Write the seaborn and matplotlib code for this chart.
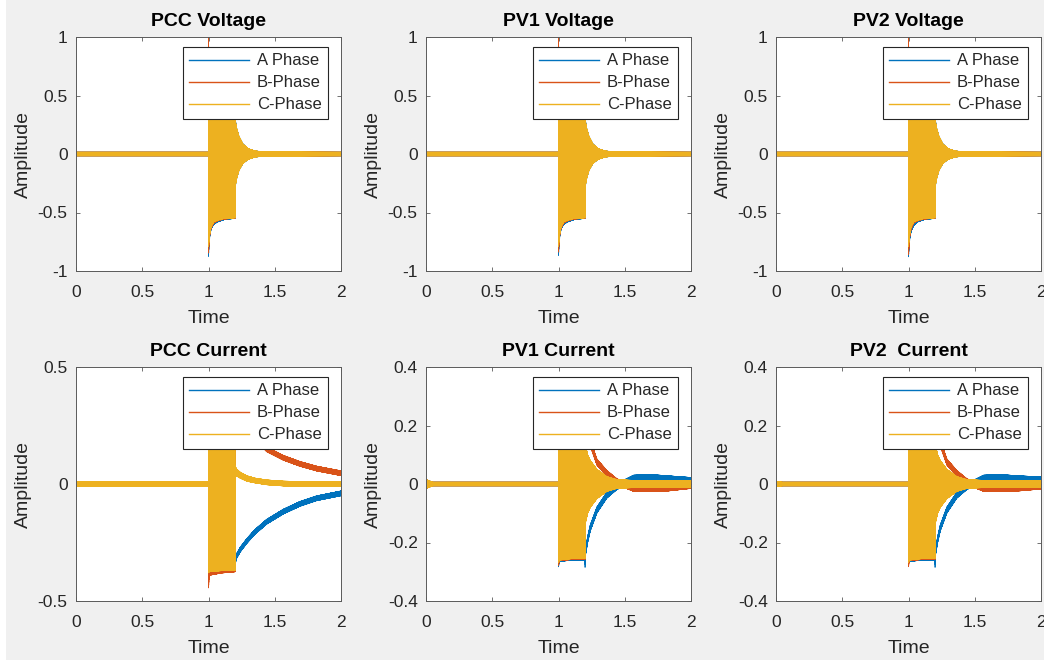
import numpy as np
import pandas as pd
import matplotlib
matplotlib.use("Agg")
import matplotlib.pyplot as plt
from matplotlib.patches import Rectangle
import seaborn as sns

# ---------------- data (envelope knots) ----------------
phases = ["A Phase", "B-Phase", "C-Phase"]
phase_colors = ["#0072BD", "#D95319", "#EDB120"]
titles = ["PCC Voltage", "PV1 Voltage", "PV2 Voltage",
          "PCC Current", "PV1 Current", "PV2  Current"]
x_ticks = [0, 0.5, 1, 1.5, 2]
x_ticklabels = ["0", "0.5", "1", "1.5", "2"]
v_ticks = [-1, -0.5, 0, 0.5, 1]
v_ticklabels = ["-1", "-0.5", "0", "0.5", "1"]
pcc_i_ticks = [-0.5, 0, 0.5]
pcc_i_ticklabels = ["-0.5", "0", "0.5"]
pv_i_ticks = [-0.4, -0.2, 0, 0.2, 0.4]
pv_i_ticklabels = ["-0.4", "-0.2", "0", "0.2", "0.4"]

# voltage knots (time) and upper / lower envelopes of each phase
v_t = [0, 0.9995, 1.0, 1.003, 1.01, 1.02, 1.04, 1.07, 1.12, 1.1995, 1.2, 1.21, 1.23, 1.26, 1.3, 1.35, 1.42, 2.0]
pcc_v_a_hi = [0.015, 0.015, 1.10, 0.55, 0.55, 0.55, 0.55, 0.55, 0.55, 0.55, 0.32, 0.23, 0.15, 0.085, 0.045, 0.026, 0.017, 0.015]
pcc_v_a_lo = [-0.015, -0.015, -0.89, -0.80, -0.70, -0.64, -0.60, -0.58, -0.56, -0.55, -0.30, -0.22, -0.14, -0.08, -0.045, -0.026, -0.017, -0.015]
pcc_v_b_hi = [0.015, 0.015, 1.10, 0.55, 0.55, 0.55, 0.55, 0.55, 0.55, 0.55, 0.30, 0.22, 0.14, 0.08, 0.042, 0.025, 0.017, 0.015]
pcc_v_b_lo = [-0.015, -0.015, -0.86, -0.78, -0.69, -0.63, -0.59, -0.57, -0.555, -0.55, -0.29, -0.21, -0.13, -0.075, -0.042, -0.025, -0.017, -0.015]
pcc_v_c_hi = [0.015, 0.015, 0.55, 0.55, 0.55, 0.55, 0.55, 0.55, 0.55, 0.55, 0.31, 0.23, 0.15, 0.085, 0.045, 0.026, 0.017, 0.015]
pcc_v_c_lo = [-0.015, -0.015, -0.80, -0.75, -0.68, -0.62, -0.58, -0.565, -0.55, -0.545, -0.30, -0.22, -0.14, -0.08, -0.045, -0.026, -0.017, -0.015]

pv1_v_a_hi = [0.015, 0.015, 1.10, 0.55, 0.55, 0.55, 0.55, 0.55, 0.55, 0.55, 0.32, 0.23, 0.15, 0.085, 0.045, 0.026, 0.017, 0.015]
pv1_v_a_lo = [-0.015, -0.015, -0.88, -0.80, -0.70, -0.64, -0.60, -0.58, -0.56, -0.55, -0.30, -0.22, -0.14, -0.08, -0.045, -0.026, -0.017, -0.015]
pv1_v_b_hi = [0.015, 0.015, 1.10, 0.55, 0.55, 0.55, 0.55, 0.55, 0.55, 0.55, 0.30, 0.22, 0.14, 0.08, 0.042, 0.025, 0.017, 0.015]
pv1_v_b_lo = [-0.015, -0.015, -0.85, -0.78, -0.69, -0.63, -0.59, -0.57, -0.555, -0.55, -0.29, -0.21, -0.13, -0.075, -0.042, -0.025, -0.017, -0.015]
pv1_v_c_hi = [0.015, 0.015, 0.55, 0.55, 0.55, 0.55, 0.55, 0.55, 0.55, 0.55, 0.31, 0.23, 0.15, 0.085, 0.045, 0.026, 0.017, 0.015]
pv1_v_c_lo = [-0.015, -0.015, -0.80, -0.75, -0.68, -0.62, -0.58, -0.565, -0.55, -0.545, -0.30, -0.22, -0.14, -0.08, -0.045, -0.026, -0.017, -0.015]

pv2_v_a_hi = [0.015, 0.015, 0.55, 0.55, 0.55, 0.55, 0.55, 0.55, 0.55, 0.55, 0.32, 0.23, 0.15, 0.085, 0.045, 0.026, 0.017, 0.015]
pv2_v_a_lo = [-0.015, -0.015, -0.89, -0.82, -0.72, -0.66, -0.61, -0.58, -0.56, -0.55, -0.30, -0.22, -0.14, -0.08, -0.045, -0.026, -0.017, -0.015]
pv2_v_b_hi = [0.015, 0.015, 1.10, 0.55, 0.55, 0.55, 0.55, 0.55, 0.55, 0.55, 0.30, 0.22, 0.14, 0.08, 0.042, 0.025, 0.017, 0.015]
pv2_v_b_lo = [-0.015, -0.015, -0.87, -0.80, -0.70, -0.64, -0.59, -0.57, -0.555, -0.55, -0.29, -0.21, -0.13, -0.075, -0.042, -0.025, -0.017, -0.015]
pv2_v_c_hi = [0.015, 0.015, 0.55, 0.55, 0.55, 0.55, 0.55, 0.55, 0.55, 0.55, 0.31, 0.23, 0.15, 0.085, 0.045, 0.026, 0.017, 0.015]
pv2_v_c_lo = [-0.015, -0.015, -0.80, -0.75, -0.68, -0.62, -0.58, -0.565, -0.55, -0.545, -0.30, -0.22, -0.14, -0.08, -0.045, -0.026, -0.017, -0.015]

# PCC current knots
pcc_i_t = [0, 0.9995, 1.0, 1.005, 1.1, 1.1995, 1.2, 1.21, 1.24, 1.29, 1.35, 1.44, 1.565, 1.69, 1.816, 2.0]
pcc_i_a_hi = [0.01, 0.01, 0.30, 0.30, 0.30, 0.30, -0.32, -0.30, -0.27, -0.233, -0.195, -0.151, -0.108, -0.075, -0.051, -0.030]
pcc_i_a_lo = [-0.01, -0.01, -0.41, -0.385, -0.375, -0.37, -0.35, -0.32, -0.29, -0.253, -0.215, -0.171, -0.128, -0.095, -0.071, -0.050]
pcc_i_b_hi = [0.01, 0.01, 0.30, 0.30, 0.30, 0.30, 0.35, 0.32, 0.30, 0.255, 0.21, 0.158, 0.122, 0.096, 0.076, 0.056]
pcc_i_b_lo = [-0.01, -0.01, -0.45, -0.39, -0.38, -0.375, 0.33, 0.30, 0.28, 0.235, 0.19, 0.138, 0.102, 0.076, 0.056, 0.036]
pcc_i_c_hi = [0.01, 0.01, 0.30, 0.30, 0.30, 0.30, 0.08, 0.065, 0.05, 0.035, 0.025, 0.017, 0.012, 0.01, 0.01, 0.01]
pcc_i_c_lo = [-0.01, -0.01, -0.38, -0.375, -0.37, -0.37, 0.03, 0.035, 0.025, 0.012, 0.005, -0.003, -0.008, -0.01, -0.01, -0.01]

# PV currents knots
pv_i_t = [0, 0.05, 0.9995, 1.0, 1.005, 1.1, 1.1995, 1.2, 1.205, 1.22, 1.24, 1.29, 1.365, 1.44, 1.567, 1.7, 1.82, 2.0]
pv1_i_a_hi = [0.015, 0.006, 0.006, 0.25, 0.25, 0.25, 0.25, -0.25, -0.22, -0.18, -0.14, -0.079, -0.028, 0.001, 0.03, 0.032, 0.028, 0.022]
pv1_i_a_lo = [-0.015, -0.006, -0.006, -0.285, -0.265, -0.26, -0.26, -0.29, -0.24, -0.20, -0.16, -0.099, -0.048, -0.019, 0.01, 0.012, 0.008, 0.002]
pv1_i_b_hi = [0.015, 0.006, 0.006, 0.25, 0.25, 0.25, 0.25, 0.28, 0.24, 0.20, 0.15, 0.085, 0.046, 0.018, -0.005, -0.006, -0.004, 0.005]
pv1_i_b_lo = [-0.015, -0.006, -0.006, -0.28, -0.262, -0.258, -0.258, 0.26, 0.22, 0.18, 0.13, 0.065, 0.026, -0.002, -0.025, -0.026, -0.024, -0.015]
pv1_i_c_hi = [0.015, 0.006, 0.006, 0.25, 0.25, 0.25, 0.25, 0.15, 0.13, 0.10, 0.08, 0.05, 0.025, 0.015, 0.012, 0.012, 0.012, 0.012]
pv1_i_c_lo = [-0.015, -0.006, -0.006, -0.27, -0.26, -0.255, -0.255, -0.15, -0.13, -0.10, -0.08, -0.05, -0.025, -0.015, -0.012, -0.012, -0.012, -0.012]

pv2_i_a_hi = [0.008, 0.006, 0.006, 0.25, 0.25, 0.25, 0.25, -0.25, -0.22, -0.18, -0.14, -0.079, -0.028, 0.001, 0.03, 0.032, 0.028, 0.024]
pv2_i_a_lo = [-0.008, -0.006, -0.006, -0.27, -0.265, -0.26, -0.26, -0.29, -0.24, -0.20, -0.16, -0.099, -0.048, -0.019, 0.01, 0.012, 0.008, 0.004]
pv2_i_b_hi = [0.008, 0.006, 0.006, 0.25, 0.25, 0.25, 0.25, 0.28, 0.24, 0.20, 0.15, 0.085, 0.046, 0.018, -0.005, -0.006, -0.004, 0.003]
pv2_i_b_lo = [-0.008, -0.006, -0.006, -0.285, -0.262, -0.258, -0.258, 0.26, 0.22, 0.18, 0.13, 0.065, 0.026, -0.002, -0.025, -0.026, -0.024, -0.017]
pv2_i_c_hi = [0.008, 0.006, 0.006, 0.25, 0.25, 0.25, 0.25, 0.15, 0.13, 0.10, 0.08, 0.05, 0.025, 0.015, 0.012, 0.012, 0.012, 0.012]
pv2_i_c_lo = [-0.008, -0.006, -0.006, -0.27, -0.26, -0.255, -0.255, -0.15, -0.13, -0.10, -0.08, -0.05, -0.025, -0.015, -0.012, -0.012, -0.012, -0.012]

panels = [
    (v_t, [(pcc_v_a_hi, pcc_v_a_lo), (pcc_v_b_hi, pcc_v_b_lo), (pcc_v_c_hi, pcc_v_c_lo)], (-1, 1), v_ticks, v_ticklabels),
    (v_t, [(pv1_v_a_hi, pv1_v_a_lo), (pv1_v_b_hi, pv1_v_b_lo), (pv1_v_c_hi, pv1_v_c_lo)], (-1, 1), v_ticks, v_ticklabels),
    (v_t, [(pv2_v_a_hi, pv2_v_a_lo), (pv2_v_b_hi, pv2_v_b_lo), (pv2_v_c_hi, pv2_v_c_lo)], (-1, 1), v_ticks, v_ticklabels),
    (pcc_i_t, [(pcc_i_a_hi, pcc_i_a_lo), (pcc_i_b_hi, pcc_i_b_lo), (pcc_i_c_hi, pcc_i_c_lo)], (-0.5, 0.5), pcc_i_ticks, pcc_i_ticklabels),
    (pv_i_t, [(pv1_i_a_hi, pv1_i_a_lo), (pv1_i_b_hi, pv1_i_b_lo), (pv1_i_c_hi, pv1_i_c_lo)], (-0.4, 0.4), pv_i_ticks, pv_i_ticklabels),
    (pv_i_t, [(pv2_i_a_hi, pv2_i_a_lo), (pv2_i_b_hi, pv2_i_b_lo), (pv2_i_c_hi, pv2_i_c_lo)], (-0.4, 0.4), pv_i_ticks, pv_i_ticklabels),
]

# ---------------- sampled waveforms ----------------
time = np.linspace(0, 2, 4001)
alt = np.arange(time.size) % 2 == 0


def waveform(tk, hi, lo):
    h = np.interp(time, tk, hi)
    l = np.interp(time, tk, lo)
    return np.where(alt, h, l)


# ---------------- figure ----------------
plt.rcParams["font.family"] = ["Liberation Sans", "DejaVu Sans"]
W, H = 1044, 660
fig = plt.figure(figsize=(W / 100, H / 100), dpi=100, facecolor="#f0f0f0")
fig.patches.append(Rectangle((0, 0), 6 / W, 1, transform=fig.transFigure,
                             facecolor="white", edgecolor="none", zorder=-1))

col_left = [76, 426, 776]
row_top = [37, 367]
aw, ah = 265, 234
text_col = "#262626"
spine_col = "#5a5a5a"

for k, (tk, series, ylim, yt, ytl) in enumerate(panels):
    r, c = divmod(k, 3)
    ax = fig.add_axes([col_left[c] / W, 1 - (row_top[r] + ah) / H, aw / W, ah / H])
    ax.set_facecolor("white")
    frames = []
    for name, (hi, lo) in zip(phases, series):
        frames.append(pd.DataFrame({"Time": time, "Amplitude": waveform(tk, hi, lo), "Phase": name}))
    df = pd.concat(frames, ignore_index=True)
    sns.lineplot(data=df, x="Time", y="Amplitude", hue="Phase", hue_order=phases,
                 palette=phase_colors, estimator=None, sort=False, lw=0.6,
                 ax=ax, legend=False)
    ax.set_xlim(0, 2)
    ax.set_ylim(*ylim)
    ax.set_xticks(x_ticks)
    ax.set_xticklabels(x_ticklabels)
    ax.set_yticks(yt)
    ax.set_yticklabels(ytl)
    ax.tick_params(direction="in", length=3, width=0.6, top=True, right=True,
                   colors=spine_col, labelcolor=text_col, labelsize=12.5)
    ax.tick_params(axis="x", pad=10)
    ax.tick_params(axis="y", pad=6)
    for s in ax.spines.values():
        s.set_color(spine_col)
        s.set_linewidth(0.7)
    ax.set_xlabel("Time", fontsize=14, color=text_col, labelpad=7)
    ax.set_ylabel("Amplitude", fontsize=14, color=text_col, labelpad=4)
    ax.set_title(titles[k], fontsize=14, fontweight="bold", color="black", pad=8)
    ax.grid(False)
    lines = ax.get_lines()[:3]
    leg = ax.legend(lines, phases, loc="upper right", bbox_to_anchor=(0.951, 0.957),
                    borderaxespad=0, fontsize=12, frameon=True, fancybox=False,
                    framealpha=1, edgecolor="#262626", handlelength=3.6,
                    handletextpad=0.45, labelspacing=0.42, borderpad=0.38)
    leg.get_frame().set_linewidth(0.8)
    for h in leg.get_lines():
        h.set_linewidth(1.0)
    for t in leg.get_texts():
        t.set_color(text_col)

fig.savefig("out.png", dpi=100, facecolor=fig.get_facecolor())
